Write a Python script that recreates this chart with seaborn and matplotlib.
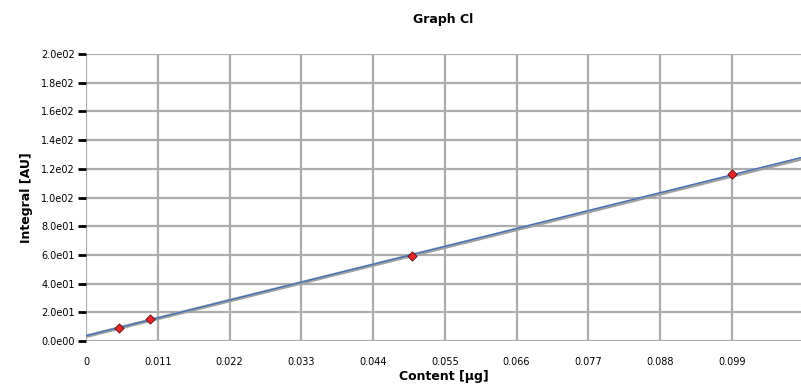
import numpy as np
import pandas as pd
import matplotlib
matplotlib.use("Agg")
import matplotlib.pyplot as plt
import seaborn as sns

# Data
content = [0.005, 0.0098, 0.050, 0.099]
integral = [8.9, 15.6, 59.3, 116.2]
x_ticks = [0, 0.011, 0.022, 0.033, 0.044, 0.055, 0.066, 0.077, 0.088, 0.099]
x_tick_labels = ["0", "0.011", "0.022", "0.033", "0.044", "0.055", "0.066", "0.077", "0.088", "0.099"]
y_ticks = [0, 20, 40, 60, 80, 100, 120, 140, 160, 180, 200]
y_tick_labels = ["0.0e00", "2.0e01", "4.0e01", "6.0e01", "8.0e01", "1.0e02",
                 "1.2e02", "1.4e02", "1.6e02", "1.8e02", "2.0e02"]
x_range = [0.0, 0.1096]
# gray reference line (intercept, slope)
gray_line = [3.3, 1128.0]

sns.set_style("white")
plt.rcParams['font.family'] = ['DejaVu Sans']
plt.rcParams['text.color'] = 'black'
plt.rcParams['axes.labelcolor'] = 'black'
plt.rcParams['xtick.color'] = 'black'
plt.rcParams['ytick.color'] = 'black'

fig = plt.figure(figsize=(8.01, 3.85), dpi=100)
ax = fig.add_axes([86/801, 44/385, 715/801, 287/385])

# fitted line (least squares from the points)
slope, intercept = np.polyfit(content, integral, 1)
xs = np.array(x_range)
df_fit = pd.DataFrame({"x": xs, "blue": intercept + slope * xs,
                       "gray": gray_line[0] + gray_line[1] * xs})

sns.lineplot(data=df_fit, x="x", y="gray", ax=ax, color="#a0a0a0", linewidth=2.6, zorder=3)
sns.lineplot(data=df_fit, x="x", y="blue", ax=ax, color="#3d6fc4", linewidth=0.9, zorder=4)
sns.scatterplot(x=content, y=integral, ax=ax, marker="D", s=22, color="#e8262a",
                edgecolor="#5a0a0a", linewidth=0.6, zorder=5)

ax.set_xlim(*x_range)
ax.set_ylim(0, 200)
ax.set_xticks(x_ticks)
ax.set_xticklabels(x_tick_labels, fontsize=7)
ax.set_yticks(y_ticks)
ax.set_yticklabels(y_tick_labels, fontsize=7)
ax.grid(True, color="#acacac", linewidth=1.6)
ax.set_axisbelow(True)
for s in ax.spines.values():
    s.set_visible(False)
ax.tick_params(axis="y", left=True, length=6, width=2, color="black", pad=2)
ax.tick_params(axis="x", bottom=False, pad=8)

ax.set_xlabel("Content [µg]", fontsize=9, fontweight="bold", labelpad=2)
ax.set_ylabel("Integral [AU]", fontsize=9, fontweight="bold", labelpad=6)
fig.text(0.5 + 43/801, 1 - 20/385, "Graph Cl", ha="center", va="center",
         fontsize=9, fontweight="bold")

fig.savefig("out.png", dpi=100)
